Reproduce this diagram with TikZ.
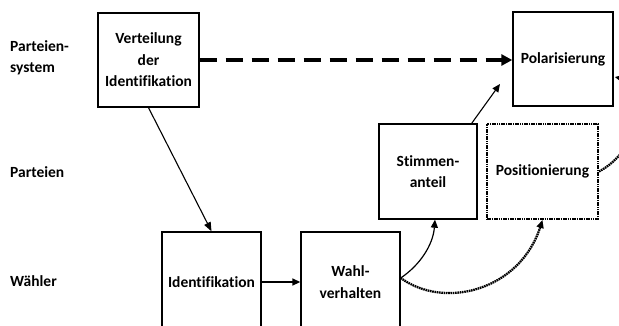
\documentclass[tikz,border=0pt]{standalone}
\usepackage{fontspec}
\setmainfont{Carlito}[Ligatures=NoCommon]
\usetikzlibrary{arrows.meta,calc}
\tikzset{
  box/.style={draw, line width=1.4pt, inner sep=0pt, align=center, font=\fontsize{15.5}{21.5}\selectfont\bfseries},
  dotbox/.style={box, line width=2pt, dash pattern=on 1.6pt off 0.7pt},
  lbl/.style={anchor=west, inner sep=0pt, align=left, font=\fontsize{15.5}{21.5}\selectfont\bfseries},
  tip/.style={-{Triangle[length=8pt,width=7pt]}},
  dotline/.style={line width=2.3pt, dash pattern=on 1.6pt off 0.7pt, -{Triangle[length=8pt,width=7pt]}},
}
\begin{document}
\begin{tikzpicture}[x=1pt,y=-1pt]
\useasboundingbox (0,0) rectangle (619,325);
\clip (0,0) rectangle (619,325);
\fill[white] (0,0) rectangle (619,325);
% row labels
\node[lbl] (r1) at (10,58) {Parteien-\\system};
\node[lbl] (r2) at (10,172) {Parteien};
\node[lbl] (r3) at (10,281) {Wähler};
% boxes
\node[box, minimum width=101pt, minimum height=94pt] (v) at (148.5,60) {Verteilung\\der\\Identifikation};
\node[box, minimum width=100pt, minimum height=94pt] (pol) at (563,59) {Polarisierung};
\node[box, minimum width=98pt, minimum height=95pt] (st) at (428,171.5) {Stimmen-\\anteil};
\node[dotbox, minimum width=111pt, minimum height=95pt] (pos) at (542.5,171.5) {Positionierung};
\node[box, minimum width=99pt, minimum height=100pt] (id) at (211.5,282) {Identifikation};
\node[box, minimum width=99pt, minimum height=100pt] (wv) at (350.5,282) {Wahl-\\verhalten};
% connectors
\draw[line width=3.2pt, dash pattern=on 17pt off 9pt, -{Triangle[length=11pt,width=11pt]}] (v.east) -- (v.east -| pol.west);
\draw[line width=1.1pt, -{Triangle[length=9pt,width=7pt]}] (v.south) -- (id.north);
\draw[line width=1.6pt, tip] (id.east) -- (wv.west);
\coordinate (stt) at ($(st.north east)+(-6,0)$);
\coordinate (polt) at (500,84);
\draw[line width=1.1pt, -{Triangle[length=8pt,width=7pt]}] (stt) -- (polt);
\coordinate (wvr) at ($(wv.east)+(0,-4)$);
\draw[line width=1.2pt, tip] (wvr) .. controls (420,265) and (433,245) .. ($(st.south)+(7,0)$);
\draw[dotline] (wvr) .. controls (445,310) and (520,290) .. (pos.south);
\draw[dotline] (pos.east) .. controls (640,150) and (655,85) .. ($(pol.east)+(1,18)$);
\end{tikzpicture}
\end{document}
